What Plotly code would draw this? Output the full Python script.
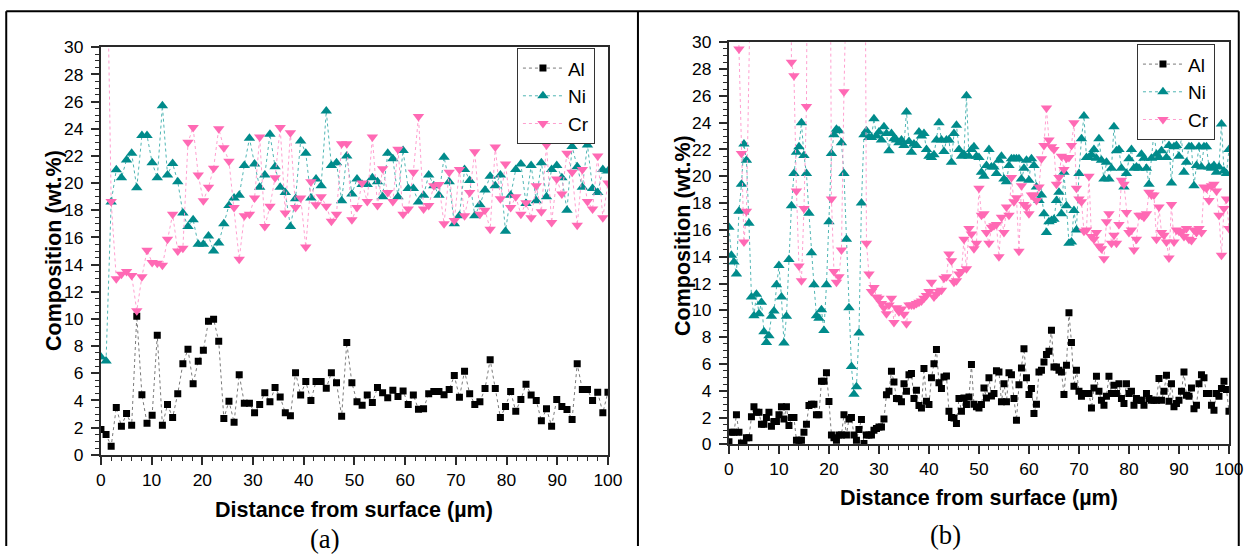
import plotly.graph_objects as go

# ---------------- Panel (a): 100 points, 0-100 um ----------------
dist_a = [i * 100 / 99 for i in range(100)]

al_a = [1.86, 1.5, 0.64, 3.48, 2.1, 3.04, 2.18, 10.2, 4.43, 2.33,
        2.92, 8.8, 2.18, 3.7, 2.74, 4.5, 6.7, 7.77, 5.24, 6.89,
        7.7, 9.83, 9.98, 8.36, 2.67, 3.95, 2.4, 5.9, 3.8, 3.8,
        3.09, 3.7, 4.57, 3.9, 4.95, 4.25, 3.1, 2.87, 6.05, 4.4,
        5.4, 4.0, 5.4, 5.4, 4.9, 6.05, 5.3, 2.84, 8.26, 5.3,
        3.9, 3.65, 4.4, 3.85, 4.95, 4.57, 4.2, 4.75, 4.3, 4.7,
        3.7, 4.4, 3.35, 3.4, 4.5, 4.67, 4.67, 4.43, 4.8, 5.83,
        4.24, 6.15, 4.5, 3.7, 3.9, 4.88, 7.0, 4.88, 2.74, 3.55,
        4.67, 3.2, 4.07, 5.2, 4.4, 4.0, 2.5, 3.4, 2.11, 4.07,
        3.55, 3.33, 2.6, 6.7, 4.8, 4.8, 4.0, 4.6, 3.1, 4.6]

ni_a = [7.2, 6.9, 18.6, 20.98, 20.4, 21.7, 22.2, 19.65, 23.5, 23.5,
        21.5, 20.4, 25.7, 20.6, 21.45, 20.1, 17.8, 16.8, 17.3, 15.5,
        15.5, 16.1, 15.0, 15.6, 17.0, 18.36, 18.9, 19.1, 21.3, 23.3,
        21.4, 19.7, 20.6, 23.6, 21.2, 19.7, 19.3, 16.8, 18.85, 23.1,
        22.2, 18.9, 20.3, 19.8, 25.3, 21.3, 21.5, 18.7, 22.0, 19.2,
        20.3, 19.9, 19.9, 20.4, 20.1, 19.0, 22.2, 21.8, 19.0, 22.4,
        19.6, 19.6, 18.6, 19.1, 20.6, 19.8, 19.1, 21.9, 20.1, 17.0,
        17.6, 21.0, 20.2, 17.6, 18.4, 19.5, 20.5, 19.8, 20.6, 16.45,
        19.1, 21.0, 21.4, 18.5, 21.3, 18.7, 21.5, 19.0, 21.0, 21.3,
        20.4, 18.0, 22.7, 21.2, 19.7, 22.8, 19.6, 19.3, 21.0, 20.9]

cr_a = [40.0, 42.0, 18.65, 12.96, 13.3, 13.5, 13.2, 10.6, 13.1, 15.05,
        14.15, 14.1, 13.95, 15.86, 17.7, 15.0, 15.2, 23.0, 24.1, 20.6,
        18.7, 19.7, 21.1, 24.0, 22.6, 21.6, 18.2, 14.4, 17.6, 17.7,
        18.9, 23.4, 16.8, 18.3, 20.4, 24.1, 17.8, 23.7, 18.2, 18.9,
        15.3, 20.1, 18.4, 19.0, 18.3, 17.2, 17.7, 22.9, 22.9, 17.3,
        18.2, 20.0, 18.65, 23.4, 18.35, 21.05, 19.3, 18.65, 22.5, 17.7,
        18.1, 20.8, 24.9, 18.1, 18.35, 19.8, 19.9, 17.0, 20.8, 17.25,
        21.0, 17.6, 19.3, 22.3, 17.7, 18.0, 16.6, 22.65, 18.85, 21.4,
        18.2, 19.0, 17.7, 18.55, 17.45, 19.8, 17.9, 22.8, 17.1, 20.3,
        19.2, 22.2, 20.8, 16.9, 21.0, 18.65, 18.1, 22.0, 17.45, 20.0]

# ---------------- Panel (b): 201 points, 0-100 um ----------------
dist_b = [i * 0.5 for i in range(201)]

al_b = [0.2, 0.9, 0.9, 2.2, 0.9, 0.1, 0.07, 0.5, 0.5, 2.05,
        2.8, 2.4, 2.4, 1.5, 1.5, 2.0, 2.4, 1.35, 1.7, 1.7,
        2.2, 2.8, 1.9, 2.8, 1.4, 2.0, 2.0, 0.3, 0.3, 0.3,
        0.9, 1.5, 2.9, 3.0, 3.0, 2.2, 2.2, 4.7, 4.7, 5.35,
        3.2, 0.7, 0.5, 0.3, 0.7, 0.7, 2.2, 0.7, 1.9, 2.0,
        0.7, 0.3, 1.1, 1.85, 0.07, 0.7, 0.7, 0.7, 1.06, 1.18,
        1.3, 1.3, 1.9, 3.7, 3.96, 5.45, 4.66, 3.42, 3.4, 3.17,
        4.53, 3.96, 5.2, 5.28, 3.42, 4.04, 2.9, 2.72, 5.65, 3.22,
        2.97, 4.96, 6.02, 7.07, 4.6, 4.16, 5.03, 5.1, 2.47, 2.0,
        1.97, 1.55, 3.42, 2.47, 3.46, 2.97, 3.54, 5.95, 3.0, 2.8,
        2.72, 2.97, 4.21, 3.46, 4.96, 3.6, 3.79, 5.5, 5.4, 3.17,
        4.53, 3.17, 5.35, 5.2, 3.42, 1.8, 4.45, 5.7, 7.14, 4.96,
        3.71, 4.16, 2.3, 3.0, 5.4, 5.53, 6.15, 6.7, 6.95, 8.52,
        5.77, 5.77, 5.53, 5.4, 3.71, 5.9, 9.82, 7.6, 4.33, 5.53,
        3.96, 3.59, 3.79, 3.79, 3.79, 2.72, 4.21, 5.08, 3.96, 3.29,
        2.92, 3.59, 5.08, 3.79, 4.41, 3.79, 4.53, 3.42, 3.04, 4.53,
        3.79, 3.96, 2.92, 3.42, 3.29, 3.29, 2.92, 3.79, 3.42, 3.29,
        3.29, 3.29, 4.91, 3.29, 3.96, 5.15, 3.22, 4.53, 2.8, 3.04,
        3.29, 3.96, 5.4, 3.67, 3.59, 4.21, 2.66, 2.92, 4.53, 5.2,
        4.96, 3.79, 3.79, 2.92, 2.55, 3.79, 3.59, 4.16, 4.71, 4.09,
        2.47]

ni_b = [16.2, 14.1, 13.6, 12.7, 17.4, 19.4, 22.4, 21.2, 16.5, 11.0,
        9.6, 11.2, 9.75, 10.6, 8.4, 7.6, 8.1, 9.55, 9.95, 11.9,
        13.35, 11.0, 7.56, 9.55, 13.8, 17.8, 20.2, 21.8, 22.2, 24.0,
        21.55, 20.2, 17.25, 14.3, 11.9, 9.6, 9.4, 10.05, 8.5, 11.9,
        16.6, 21.7, 23.1, 23.5, 23.4, 22.5, 20.2, 15.3, 10.2, 5.8,
        3.74, 4.3, 8.3, 18.0, 23.1, 23.4, 22.9, 22.9, 24.3, 23.0,
        23.3, 22.7, 23.7, 23.2, 21.9, 23.2, 22.8, 22.7, 22.5, 22.7,
        22.3, 24.8, 22.6, 21.8, 22.4, 22.3, 23.3, 23.0, 23.2, 22.0,
        21.5, 21.4, 21.6, 22.7, 24.0, 22.7, 21.85, 22.7, 22.7, 21.05,
        23.2, 23.8, 22.0, 21.5, 21.65, 26.0, 21.5, 22.0, 22.2, 21.5,
        21.4, 20.3, 20.0, 20.8, 22.0, 20.7, 20.7, 20.2, 21.2, 21.5,
        19.8, 19.6, 20.8, 21.3, 21.3, 21.3, 21.3, 19.8, 20.6, 21.2,
        19.7, 21.3, 20.8, 19.2, 18.2, 18.6, 17.2, 15.8, 16.6, 16.7,
        16.8, 18.2, 18.8, 17.2, 20.3, 17.8, 15.0, 15.1, 17.45, 16.0,
        20.2, 22.8, 24.5, 21.4, 21.4, 21.6, 22.0, 21.35, 22.8, 21.2,
        19.8, 21.05, 19.8, 20.6, 23.7, 21.9, 22.0, 20.6, 19.2, 20.2,
        21.3, 22.0, 20.6, 20.7, 20.6, 21.65, 21.35, 20.6, 19.4, 21.35,
        23.3, 21.65, 21.4, 21.9, 23.3, 21.4, 22.3, 19.5, 22.2, 22.3,
        21.5, 22.9, 20.3, 21.05, 22.2, 22.2, 19.3, 20.8, 22.2, 20.7,
        22.2, 22.2, 20.7, 20.6, 20.8, 20.3, 20.7, 23.9, 20.4, 20.2,
        22.0]

cr_b = [45.0, 50.0, 48.0, 60.0, 29.5, 21.7, 15.1, 17.4, 60.0, 55.0,
        58.0, 60.0, 62.0, 58.0, 65.0, 63.0, 60.0, 57.0, 62.0, 55.0,
        52.0, 56.0, 50.0, 48.0, 60.0, 28.5, 27.5, 18.9, 13.3, 12.2,
        17.6, 25.2, 60.0, 55.0, 52.0, 60.0, 62.0, 58.0, 50.0, 55.0,
        60.0, 18.3, 12.9, 12.1, 12.5, 14.5, 26.3, 60.0, 55.0, 58.0,
        60.0, 55.0, 50.0, 55.0, 60.0, 15.0, 12.7, 11.4, 11.7, 11.0,
        10.9, 10.5, 10.2, 9.75, 10.4, 10.9, 9.1, 10.2, 9.9, 10.1,
        9.7, 9.0, 10.4, 10.4, 10.4, 10.5, 10.6, 10.7, 10.9, 11.1,
        11.4, 12.1, 11.0, 11.2, 11.4, 11.5, 12.4, 12.5, 14.2, 13.7,
        12.1, 12.2, 12.7, 12.9, 15.3, 13.1, 16.1, 15.7, 14.6, 15.0,
        19.1, 17.1, 17.2, 15.8, 15.0, 16.2, 16.3, 16.4, 14.0, 16.95,
        15.8, 17.7, 17.1, 19.9, 18.1, 18.4, 14.4, 19.3, 17.9, 17.7,
        17.2, 18.6, 18.6, 18.2, 19.2, 21.3, 22.3, 25.1, 22.7, 22.2,
        22.0, 19.4, 19.9, 21.5, 20.5, 21.35, 21.4, 22.3, 24.0, 19.1,
        18.3, 18.1, 15.9, 16.0, 20.0, 15.5, 15.3, 15.8, 14.8, 14.6,
        13.85, 16.6, 17.2, 15.0, 15.6, 15.0, 16.4, 19.7, 19.4, 17.3,
        15.8, 16.0, 14.5, 15.3, 17.1, 17.1, 16.95, 17.2, 18.8, 18.6,
        18.6, 15.3, 17.7, 15.8, 15.6, 15.1, 13.9, 17.9, 15.1, 16.0,
        15.9, 15.8, 15.5, 16.1, 15.3, 15.2, 16.0, 15.8, 16.1, 15.8,
        19.2, 19.1, 18.2, 19.3, 19.4, 18.9, 17.1, 14.1, 17.6, 18.3,
        16.1]

x_ticks = [0, 10, 20, 30, 40, 50, 60, 70, 80, 90, 100]
y_ticks = [0, 2, 4, 6, 8, 10, 12, 14, 16, 18, 20, 22, 24, 26, 28, 30]
series_names = ["Al", "Ni", "Cr"]

# Observed capture: page offset 8px (body margin) and a slight shrink when photographed.
SX, SY, OFF = 0.986, 0.965, 8
W, H = 1255, 556
FS = 2 / (SX + SY)
FONT = "Arial, Liberation Sans, Helvetica, sans-serif"


def px_x(r):
    r = (r + 3.8) / 0.998
    return min(max((r / SX - OFF) / W, 0.0), 1.0)


def px_y(r):
    return min(max(1 - (r / SY - OFF) / H, 0.0), 1.0)


styles = {
    "Al": dict(marker=dict(symbol="square", size=7, color="black"),
               line=dict(color="#7a7a7a", width=1, dash="dot")),
    "Ni": dict(marker=dict(symbol="triangle-up", size=10, color="#008b8b"),
               line=dict(color="#4fb5b3", width=1, dash="dot")),
    "Cr": dict(marker=dict(symbol="triangle-down", size=10, color="#ff69b4"),
               line=dict(color="#ff9fcf", width=1, dash="dot")),
}

fig = go.Figure()

for name, ys in zip(series_names, [al_a, ni_a, cr_a]):
    fig.add_trace(go.Scatter(x=dist_a, y=ys, name=name, mode="lines+markers",
                             xaxis="x", yaxis="y", legend="legend", **styles[name]))
for name, ys in zip(series_names, [al_b, ni_b, cr_b]):
    fig.add_trace(go.Scatter(x=dist_b, y=ys, name=name, mode="lines+markers",
                             xaxis="x2", yaxis="y2", legend="legend2", **styles[name]))

axis_common = dict(
    showline=True, linecolor="#2a2a2a", linewidth=2, mirror=True,
    ticks="outside", ticklen=8, tickwidth=1.5, tickcolor="#2a2a2a",
    showgrid=False, zeroline=False,
    tickfont=dict(family=FONT, size=17 * FS, color="black"),
)
minor_x = dict(dtick=2, ticklen=4, tickwidth=1, tickcolor="#2a2a2a", ticks="outside")
minor_y = dict(dtick=0.5, ticklen=4, tickwidth=1, tickcolor="#2a2a2a", ticks="outside")
legend_common = dict(xanchor="right", yanchor="top", bordercolor="#333", borderwidth=1,
                     bgcolor="white", font=dict(family=FONT, size=19, color="black"),
                     itemwidth=40, tracegroupgap=0)

fig.update_layout(
    width=W, height=H, autosize=False,
    margin=dict(l=0, r=0, t=0, b=0, pad=0),
    paper_bgcolor="white", plot_bgcolor="white",
    xaxis=dict(domain=[px_x(100), px_x(607)], range=[0, 100], tickvals=x_ticks,
               minor=minor_x, anchor="y", ticklabelstandoff=0, **axis_common),
    yaxis=dict(domain=[px_y(453), px_y(45)], range=[0, 30], tickvals=y_ticks,
               minor=minor_y, anchor="x", ticklabelstandoff=4, **axis_common),
    xaxis2=dict(domain=[px_x(728), px_x(1228)], range=[0, 100], tickvals=x_ticks,
                minor=minor_x, anchor="y2", ticklabelstandoff=0, **axis_common),
    yaxis2=dict(domain=[px_y(442.5), px_y(40)], range=[0, 30], tickvals=y_ticks,
                minor=minor_y, anchor="x2", ticklabelstandoff=4, **axis_common),
    legend=dict(x=px_x(594), y=px_y(46), **legend_common),
    legend2=dict(x=px_x(1214), y=px_y(42), **legend_common),
    showlegend=True,
)

# outer table frame (reference pixel positions, clamped to the drawable area)
frame = [
    (3, 9, 1252, 9),
    (3, 9, 3, 560),
    (637, 9, 637, 560),
    (1252, 9, 1252, 560),
]
for x0, y0, x1, y1 in frame:
    fig.add_shape(type="line", xref="paper", yref="paper",
                  x0=min(max(px_x(x0), 0.001), 0.999), y0=px_y(y0),
                  x1=min(max(px_x(x1), 0.001), 0.999), y1=px_y(y1),
                  line=dict(color="black", width=2))

title_font = dict(family=FONT, size=21 * FS, color="black")
ann = [
    dict(text="<b>Composition (wt.%)</b>", x=px_x(53), y=px_y(248), textangle=-90),
    dict(text="<b>Composition (wt.%)</b>", x=px_x(682), y=px_y(233), textangle=-90),
    dict(text="<b>Distance from surface (µm)</b>", x=px_x(353), y=px_y(508)),
    dict(text="<b>Distance from surface (µm)</b>", x=px_x(978), y=px_y(496)),
]
for a in ann:
    fig.add_annotation(xref="paper", yref="paper", showarrow=False,
                       xanchor="center", yanchor="middle", font=title_font, **a)

for txt, xc, yc in [("(a)", 324, 537), ("(b)", 945, 533)]:
    fig.add_annotation(xref="paper", yref="paper", showarrow=False, text=txt,
                       x=px_x(xc), y=px_y(yc), xanchor="center", yanchor="middle",
                       font=dict(family="Times New Roman, Liberation Serif, serif",
                                 size=26 * FS, color="black"))

fig.write_html("out.html")
